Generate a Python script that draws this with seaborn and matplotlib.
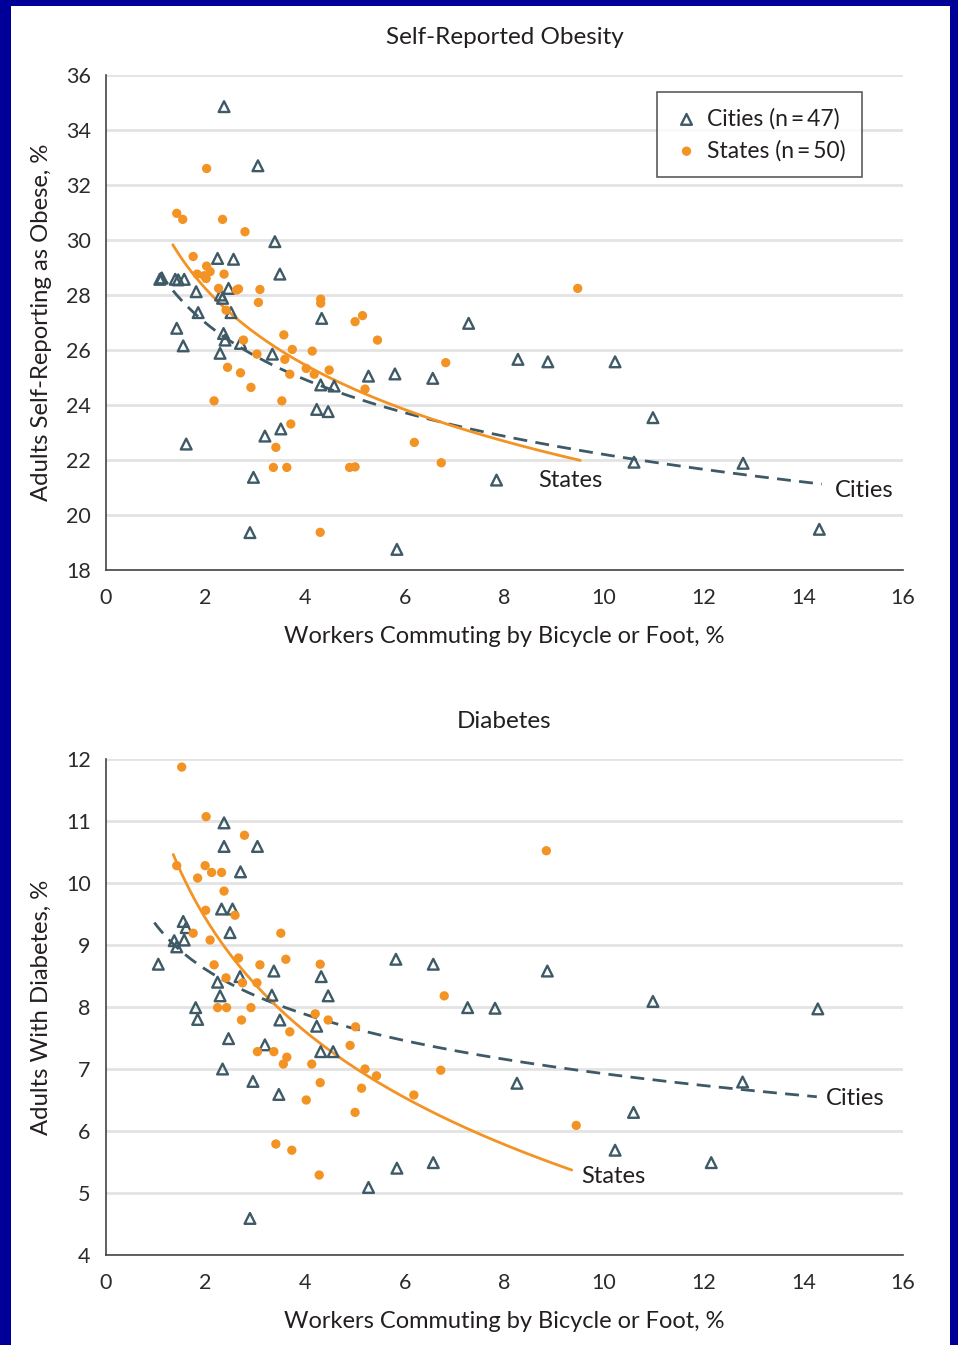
import numpy as np
import pandas as pd
import seaborn as sns
import matplotlib.pyplot as plt
from matplotlib.patches import Rectangle

# Obesity panel: cities (triangles) and states (dots)
ob_city_x = [2.37, 3.05, 3.39, 2.24, 2.56, 3.49, 1.08, 1.39, 1.57, 2.46, 1.81, 2.34, 1.85, 2.51, 1.42,
             4.33, 2.36, 2.39, 1.55, 2.70, 2.29, 3.34, 5.27, 5.80, 4.31, 4.58, 4.23, 4.46, 3.51, 3.19,
             1.61, 2.96, 2.89, 5.84, 7.28, 8.27, 8.87, 10.22, 6.56, 10.98, 10.60, 12.79, 7.84, 14.32,
             1.12, 2.30, 1.45]
ob_city_y = [34.85, 32.70, 29.94, 29.33, 29.30, 28.76, 28.57, 28.57, 28.57, 28.24, 28.12, 27.88, 27.36, 27.36, 26.79,
             27.15, 26.60, 26.36, 26.15, 26.24, 25.88, 25.85, 25.05, 25.13, 24.73, 24.69, 23.84, 23.76, 23.13, 22.87,
             22.58, 21.37, 19.36, 18.75, 26.97, 25.66, 25.57, 25.57, 24.97, 23.54, 21.92, 21.88, 21.27, 19.48,
             28.62, 28.00, 28.55]
ob_state_x = [2.02, 1.42, 1.54, 2.34, 2.79, 1.75, 2.02, 2.09, 1.83, 2.37, 2.01, 2.26, 2.62, 3.09, 3.06,
              2.41, 3.57, 4.31, 4.31, 5.00, 5.15, 5.45, 2.76, 3.03, 3.74, 4.14, 3.59, 2.44, 4.02, 4.48,
              2.70, 3.69, 4.18, 5.20, 2.91, 2.17, 3.53, 3.71, 3.41, 3.36, 3.63, 4.89, 5.00, 4.30, 9.47,
              6.82, 6.19, 6.73, 2.66, 1.97]
ob_state_y = [32.60, 30.97, 30.75, 30.75, 30.30, 29.40, 29.05, 28.85, 28.76, 28.76, 28.60, 28.24, 28.18, 28.20, 27.73,
              27.45, 26.55, 27.85, 27.70, 27.03, 27.25, 26.36, 26.36, 25.85, 26.02, 25.96, 25.66, 25.37, 25.33, 25.27,
              25.17, 25.12, 25.12, 24.58, 24.64, 24.15, 24.15, 23.31, 22.46, 21.73, 21.73, 21.73, 21.75, 19.37, 28.24,
              25.54, 22.64, 21.90, 28.22, 28.70]

# Diabetes panel
db_city_x = [2.37, 2.37, 3.04, 2.70, 2.32, 2.54, 1.55, 1.61, 2.49, 1.37, 1.57, 1.42, 1.05, 3.37, 2.69,
             2.24, 2.29, 3.33, 1.80, 1.84, 3.49, 2.46, 5.82, 4.32, 4.46, 4.23, 3.19, 4.31, 4.56, 2.34,
             2.95, 3.47, 5.84, 5.27, 2.89, 6.57, 8.86, 7.26, 7.81, 10.98, 14.29, 8.25, 12.78, 10.59, 10.22,
             6.57, 12.15]
db_city_y = [10.97, 10.59, 10.59, 10.18, 9.58, 9.58, 9.38, 9.28, 9.20, 9.07, 9.08, 8.97, 8.69, 8.58, 8.49,
             8.40, 8.18, 8.19, 7.99, 7.80, 7.79, 7.49, 8.77, 8.49, 8.18, 7.69, 7.39, 7.28, 7.28, 7.00,
             6.80, 6.59, 5.40, 5.09, 4.59, 8.69, 8.58, 7.99, 7.98, 8.09, 7.97, 6.77, 6.79, 6.30, 5.69,
             5.49, 5.49]
db_state_x = [1.52, 2.01, 2.78, 1.42, 1.99, 2.12, 2.32, 1.84, 2.37, 2.00, 2.59, 1.75, 3.51, 2.09, 3.61,
              2.66, 2.17, 3.09, 2.41, 2.74, 3.03, 2.24, 2.42, 2.91, 2.72, 3.69, 4.30, 4.20, 4.46, 5.01,
              4.90, 3.04, 3.37, 3.63, 3.56, 4.13, 5.20, 5.43, 4.30, 5.13, 4.02, 5.00, 3.41, 3.73, 4.28,
              8.84, 6.79, 6.72, 6.18, 9.44]
db_state_y = [11.87, 11.07, 10.77, 10.28, 10.28, 10.17, 10.17, 10.08, 9.87, 9.56, 9.48, 9.19, 9.19, 9.08, 8.77,
              8.79, 8.68, 8.68, 8.47, 8.39, 8.39, 7.99, 7.99, 7.99, 7.79, 7.60, 8.69, 7.89, 7.79, 7.68,
              7.38, 7.28, 7.28, 7.19, 7.08, 7.08, 7.00, 6.89, 6.78, 6.69, 6.50, 6.30, 5.79, 5.69, 5.29,
              10.52, 8.18, 6.98, 6.58, 6.09]

# log fits: y = a + b*ln(x), drawn over [xmin, xmax]
ob_city_fit = (29.04, -2.97, 1.08, 14.37)
ob_state_fit = (31.0, -4.0, 1.34, 9.52)
db_city_fit = (9.33, -1.045, 0.97, 14.27)
db_state_fit = (11.25, -2.63, 1.35, 9.35)

city_color = '#3d5a66'
state_color = '#f39324'
text_color = '#231f20'

sns.set_style('white')
plt.rcParams['font.family'] = ['Lato', 'DejaVu Sans']

fig = plt.figure(figsize=(9.58, 13.45), dpi=100)
fig.patch.set_facecolor('#000099')
fig.add_artist(Rectangle((11 / 958, 0), 939 / 958, 1339 / 1345, transform=fig.transFigure,
                         facecolor='white', edgecolor='none', zorder=-1))

panels = [
    dict(title='Self-Reported Obesity', ylabel='Adults Self-Reporting as Obese, %',
         cx=ob_city_x, cy=ob_city_y, sx=ob_state_x, sy=ob_state_y,
         cfit=ob_city_fit, sfit=ob_state_fit,
         ylim=(18, 36), yticks=np.arange(18, 37, 2), pos=[106 / 958, 775 / 1345, 797 / 958, 495 / 1345],
         states_lbl=(8.67, 21.27), cities_lbl=(14.64, 20.9), legend=True),
    dict(title='Diabetes', ylabel='Adults With Diabetes, %',
         cx=db_city_x, cy=db_city_y, sx=db_state_x, sy=db_state_y,
         cfit=db_city_fit, sfit=db_state_fit,
         ylim=(4, 12), yticks=np.arange(4, 13, 1), pos=[106 / 958, 90 / 1345, 797 / 958, 496 / 1345],
         states_lbl=(9.54, 5.26), cities_lbl=(14.46, 6.53), legend=False),
]


def fit_curve(fit):
    a, b, lo, hi = fit
    xs = np.linspace(lo, hi, 200)
    return pd.DataFrame({'x': xs, 'y': a + b * np.log(xs)})


for p in panels:
    ax = fig.add_axes(p['pos'])
    cities = pd.DataFrame({'x': p['cx'], 'y': p['cy']})
    states = pd.DataFrame({'x': p['sx'], 'y': p['sy']})

    sns.lineplot(data=fit_curve(p['cfit']), x='x', y='y', ax=ax, color=city_color, lw=2,
                 dashes=False, ls=(0, (5, 3)), zorder=2, legend=False)
    sns.lineplot(data=fit_curve(p['sfit']), x='x', y='y', ax=ax, color=state_color, lw=2,
                 zorder=2, legend=False)

    sns.scatterplot(data=cities, x='x', y='y', marker='^', s=60, color=city_color,
                    edgecolor=city_color, linewidth=1.7, ax=ax, label='Cities (n\u2009=\u200947)', zorder=3)
    ax.collections[-1].set_facecolor('none')
    sns.scatterplot(data=states, x='x', y='y', marker='o', s=45, color=state_color,
                    edgecolor='none', linewidth=0, ax=ax, label='States (n\u2009=\u200950)', zorder=3)

    ax.set_xlim(0, 16)
    ax.set_ylim(*p['ylim'])
    ax.set_xticks(np.arange(0, 17, 2))
    ax.set_yticks(p['yticks'])
    ax.yaxis.grid(True, color='#e3e3e3', lw=2)
    ax.set_axisbelow(True)
    for s in ['top', 'right']:
        ax.spines[s].set_visible(False)
    for s in ['left', 'bottom']:
        ax.spines[s].set_color('#444444')
        ax.spines[s].set_linewidth(1.2)
    ax.tick_params(axis='both', direction='out', length=6, width=1.2, color='#444444',
                   labelsize=15.5, labelcolor='#2b2b2b', pad=5)
    ax.tick_params(axis='x', pad=7)

    ax.set_title(p['title'], fontsize=17.5, color=text_color, pad=22)
    ax.set_xlabel('Workers Commuting by Bicycle or Foot, %', fontsize=17, color=text_color, labelpad=13)
    ax.set_ylabel(p['ylabel'], fontsize=17.2, color=text_color, labelpad=10)

    ax.text(*p['states_lbl'], 'States', fontsize=17, color=text_color, va='center', ha='left')
    ax.text(*p['cities_lbl'], 'Cities', fontsize=17, color=text_color, va='center', ha='left')

    if p['legend']:
        leg = ax.legend(loc='upper left', bbox_to_anchor=(0.691, 0.966), borderaxespad=0,
                        fontsize=16.5, frameon=True, fancybox=False, edgecolor='#333333',
                        handletextpad=0.3, handlelength=1.2, borderpad=0.7, labelspacing=0.45)
        leg.get_frame().set_linewidth(1.2)
        for t in leg.get_texts():
            t.set_color(text_color)
    elif ax.get_legend() is not None:
        ax.get_legend().remove()

fig.savefig('out.png', dpi=100, facecolor=fig.get_facecolor())
